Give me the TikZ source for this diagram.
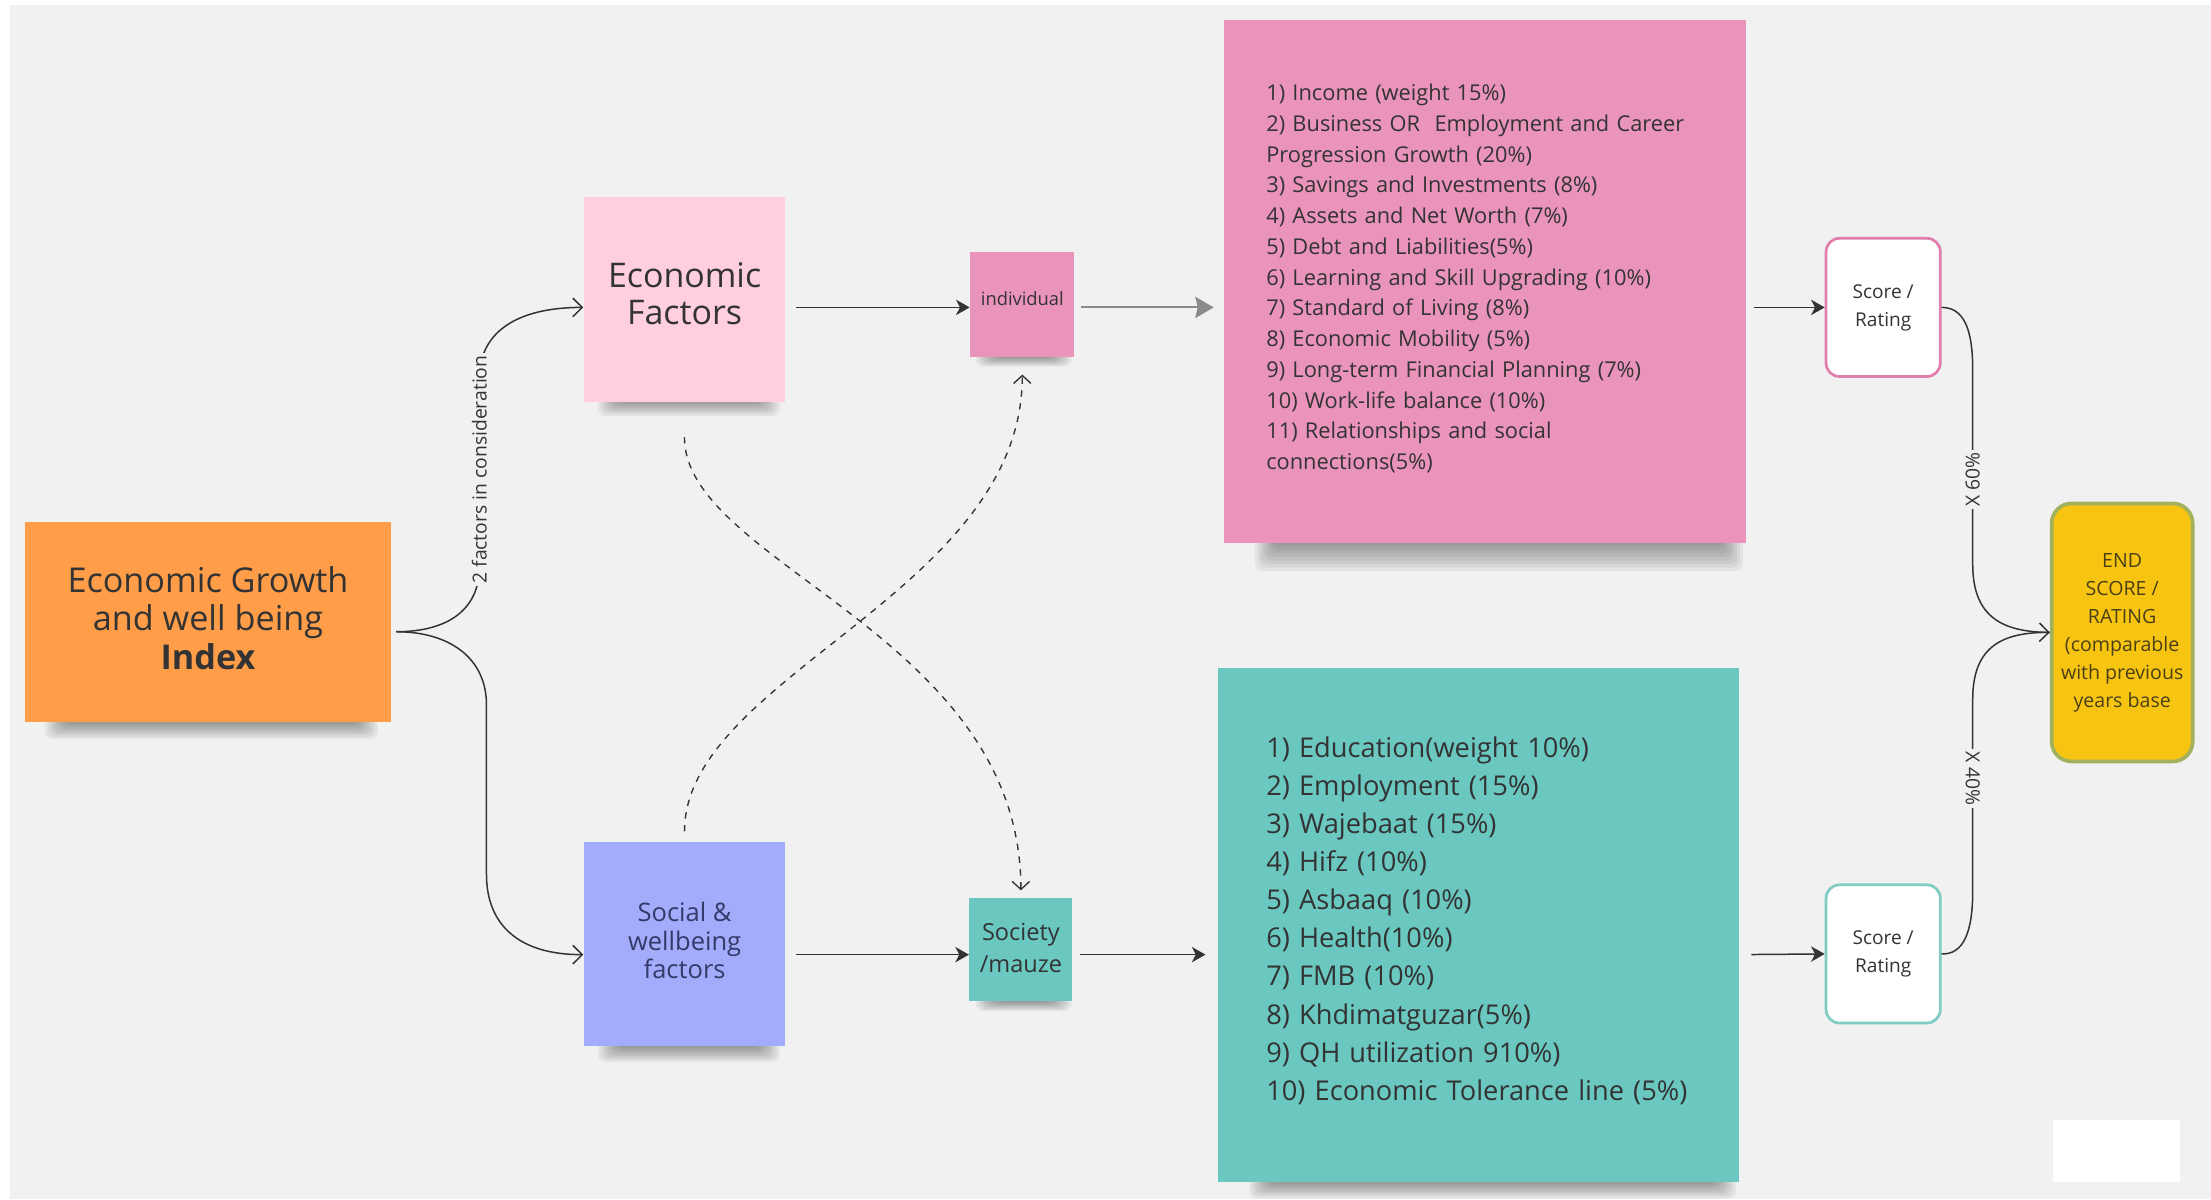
\documentclass[tikz,border=0pt]{standalone}
\usepackage{fontspec}
\setmainfont{Open Sans}
\usetikzlibrary{arrows.meta}
\definecolor{canvas}{HTML}{F1F1F1}
\definecolor{sorange}{HTML}{FF9D48}
\definecolor{slpink}{HTML}{FFCEE0}
\definecolor{spink}{HTML}{EA94BB}
\definecolor{sblue}{HTML}{A3ACFA}
\definecolor{scyan}{HTML}{6AC8C1}
\definecolor{sgold}{HTML}{F7C412}
\definecolor{solive}{HTML}{A2B25C}
\definecolor{bpink}{HTML}{E07FAB}
\definecolor{bteal}{HTML}{80CCC4}
\definecolor{txt}{HTML}{333333}
\definecolor{navytxt}{HTML}{343A6A}
\definecolor{goldtxt}{HTML}{4A4016}
\definecolor{arrgray}{HTML}{8A8A8A}
\newcommand\stickshadow[4]{% left, right, bottom, depth
  \foreach \k in {0,...,7}{%
    \fill[black,opacity=0.05,rounded corners=3pt]
      ({#1+\k*2},{#3-3}) rectangle ({#2-\k*2},{#3+#4*(1-\k/8)});}}
\begin{document}
\begin{tikzpicture}[x=0.02cm,y=-0.02cm,
  sticky/.style={draw=none,inner sep=0pt,text=txt,align=center},
  stickytext/.style={inner sep=0pt,text=txt,align=center},
  listtext/.style={inner sep=0pt,text=txt,align=left},
  scorebox/.style={fill=white,line width=1.1pt,rounded corners=5.4pt,inner sep=0pt,
    minimum width=1.62cm,minimum height=1.96cm,text=txt,align=center,
    font=\fontsize{7.7}{11.3}\selectfont},
  conn/.style={draw=txt,line width=0.6pt},
  openarr/.style={-{Straight Barb[length=3.8pt,width=7.5pt]}},
  solidarr/.style={-{Stealth[length=5.5pt,width=6.2pt,inset=1.6pt]}},
  dasharr/.style={draw=txt,line width=0.55pt,dash pattern=on 2.6pt off 2.6pt,
    -{Straight Barb[length=3.2pt,width=7pt]}},
  lbl/.style={fill=canvas,text=txt,inner xsep=1pt,inner ysep=0.5pt,
    font=\fontsize{7.8}{9}\selectfont}]

\useasboundingbox (0,0) rectangle (1568,850.3);
\fill[white] (0,0) rectangle (1568,850.3);
\fill[canvas] (7,3.5) rectangle (1568,850.3);

% shadows under the sticky notes
\stickshadow{32}{268}{512}{12}
\stickshadow{424}{553}{284}{11}
\stickshadow{692}{760}{253}{7}
\stickshadow{890}{1236}{385}{20}
\stickshadow{424}{553}{742}{11}
\stickshadow{692}{760}{710}{7}
\stickshadow{886}{1231}{838}{12}

% sticky notes
\node[sticky,fill=sorange,minimum width=5.18cm,minimum height=2.84cm,
  label={[stickytext,yshift=1.5pt,font=\fontsize{13.8}{15.6}\selectfont]center:Economic Growth\\and well being\\\textbf{Index}}]
  (idx) at (147.5,441) {};
\node[sticky,fill=slpink,minimum width=2.86cm,minimum height=2.9cm,
  label={[stickytext,yshift=2.5pt,font=\fontsize{13.7}{14.8}\selectfont]center:Economic\\Factors}]
  (econ) at (485.5,212.5) {};
\node[sticky,fill=spink,minimum width=1.48cm,minimum height=1.48cm,
  label={[stickytext,yshift=2.3pt,font=\fontsize{7.4}{9}\selectfont]center:individual}]
  (indiv) at (725,216) {};
\node[sticky,fill=spink,minimum width=7.4cm,minimum height=7.42cm,
  label={[listtext,text width=6.2cm,yshift=1.1pt,font=\fontsize{8.8}{12.4}\selectfont]center:%
   \mbox{1) Income (weight 15\%)}\\
   \mbox{2) Business OR\ \ Employment and Career}\\
   \mbox{Progression Growth (20\%)}\\
   \mbox{3) Savings and Investments (8\%)}\\
   \mbox{4) Assets and Net Worth (7\%)}\\
   \mbox{5) Debt and Liabilities(5\%)}\\
   \mbox{6) Learning and Skill Upgrading (10\%)}\\
   \mbox{7) Standard of Living (8\%)}\\
   \mbox{8) Economic Mobility (5\%)}\\
   \mbox{9) Long-term Financial Planning (7\%)}\\
   \mbox{10) Work-life balance (10\%)}\\
   \mbox{11) Relationships and social}\\
   \mbox{connections(5\%)}}]
  (toplist) at (1053,199.5) {};
\node[sticky,fill=sblue,minimum width=2.86cm,minimum height=2.9cm,
  label={[stickytext,text=navytxt,yshift=1.4pt,font=\fontsize{10.3}{11.4}\selectfont]center:Social \&\\wellbeing\\factors}]
  (social) at (485.5,669.5) {};
\node[sticky,fill=scyan,minimum width=1.46cm,minimum height=1.46cm,
  label={[stickytext,yshift=0.6pt,font=\fontsize{9.5}{13.1}\selectfont]center:Society\\/mauze}]
  (society) at (724,673.5) {};
\node[sticky,fill=scyan,minimum width=7.38cm,minimum height=7.28cm,
  label={[listtext,text width=6.02cm,yshift=1.8pt,font=\fontsize{11}{15.4}\selectfont]center:%
   \mbox{1) Education(weight 10\%)}\\
   \mbox{2) Employment (15\%)}\\
   \mbox{3) Wajebaat (15\%)}\\
   \mbox{4) Hifz (10\%)}\\
   \mbox{5) Asbaaq (10\%)}\\
   \mbox{6) Health(10\%)}\\
   \mbox{7) FMB (10\%)}\\
   \mbox{8) Khdimatguzar(5\%)}\\
   \mbox{9) QH utilization 910\%)}\\
   \mbox{10) Economic Tolerance line (5\%)}}]
  (botlist) at (1048.5,656) {};

% score boxes and end box
\node[scorebox,draw=bpink] (score1) at (1335.5,218) {Score /\\Rating};
\node[scorebox,draw=bteal] (score2) at (1335.5,676.5) {Score /\\Rating};
\node[draw=solive,fill=sgold,line width=1.5pt,rounded corners=8pt,inner sep=0pt,
  minimum width=2.0cm,minimum height=3.66cm,text=goldtxt,align=center,
  font=\fontsize{7.9}{11.3}\selectfont] (endbox) at (1505,448.5)
  {END\\SCORE /\\RATING\\(comparable\\with previous\\years base};
\node[fill=white,inner sep=0pt,minimum width=1.8cm,minimum height=0.88cm] (blank) at (1501,816) {};

% connectors from the index
\coordinate (br) at (281,448);
\draw[conn,openarr] (br) .. controls (318,448) and (340,432) .. (340,402)
  -- (340,268) .. controls (340,236) and (366,218) .. (econ.west |- 0,218);
\node[lbl,rotate=90] (lab1) at (340,333) {2 factors in consideration};
\draw[conn,openarr] (br) .. controls (318,448) and (345,466) .. (345,500)
  -- (345,620) .. controls (345,656) and (368,677) .. (social.west |- 0,677);

% horizontal flow
\draw[conn,solidarr,shorten <=4pt] (econ.east |- 0,218) -- (indiv.west |- 0,218);
\draw[draw=arrgray,line width=0.8pt,-{Stealth[length=7.4pt,width=8.6pt,inset=1pt]},shorten <=2.5pt,shorten >=4pt]
  (indiv.east |- 0,218) -- (toplist.west |- 0,218);
\draw[conn,solidarr,shorten <=4pt] (social.east |- 0,677) -- (society.west |- 0,677);
\draw[conn,solidarr,shorten <=3pt,shorten >=5pt] (society.east |- 0,677) -- (botlist.west |- 0,677);
\draw[conn,solidarr,shorten <=3pt] (toplist.east |- 0,218) -- (score1.west);
\draw[conn,solidarr,shorten <=5pt] (botlist.east |- 0,677) -- (score2.west);

% dashed crossing connectors
\draw[dasharr,shorten <=14pt,shorten >=3pt] (econ.south) .. controls (485,400) and (724,450) .. (society.north);
\draw[dasharr,shorten <=4pt,shorten >=7pt] (social.north) .. controls (485,480) and (725,420) .. (indiv.south);

% to end score
\draw[conn,openarr] (score1.east) .. controls (1392,218) and (1399,232) .. (1399,262)
  -- (1399,400) .. controls (1399,436) and (1418,448) .. (endbox.west);
\node[lbl,rotate=90] (lab2) at (1399,340) {X 60\%};
\draw[conn] (score2.east) .. controls (1392,677) and (1399,662) .. (1399,632)
  -- (1399,496) .. controls (1399,460) and (1418,448) .. (endbox.west);
\node[lbl,rotate=-90] (lab3) at (1399,552) {X 40\%};
\end{tikzpicture}
\end{document}
